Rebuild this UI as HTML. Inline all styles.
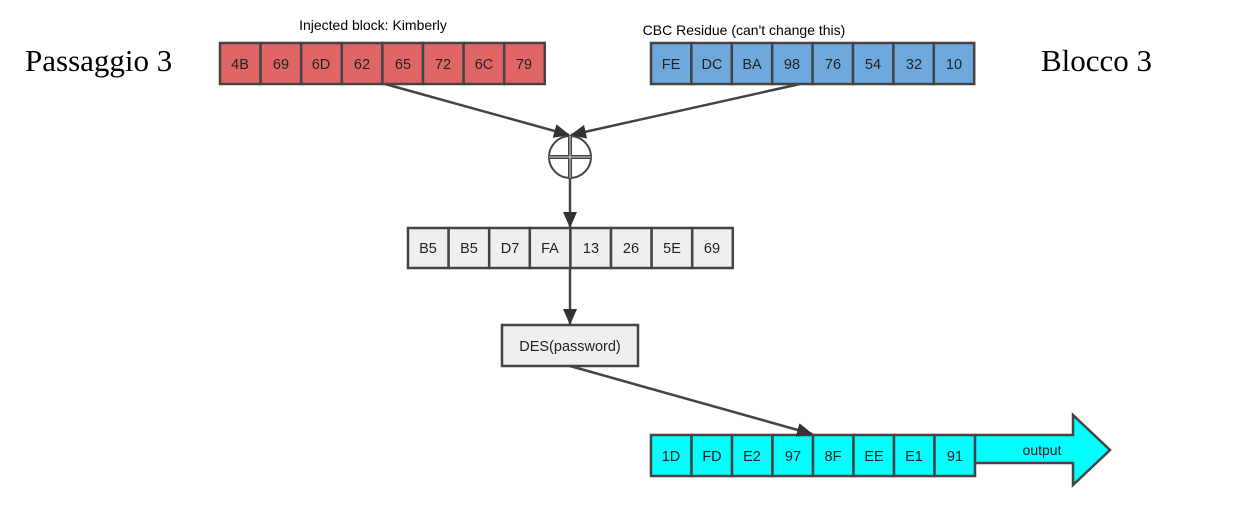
<!DOCTYPE html>
<html><head><meta charset="utf-8"><style>
body{margin:0;background:#fff;}
svg text{font-family:"Liberation Sans",sans-serif;}
</style></head><body>
<svg width="1258" height="526" viewBox="0 0 1258 526" xmlns="http://www.w3.org/2000/svg">
<defs>
<marker id="ah" markerWidth="16" markerHeight="14" refX="15" refY="7" orient="auto" markerUnits="userSpaceOnUse" viewBox="0 0 16 14">
<path d="M0,0 L16,7 L0,14 z" fill="#333"/>
</marker>
</defs>
<text x="25" y="71" style="font-family:'Liberation Serif',serif" font-size="31">Passaggio 3</text>
<text x="1041" y="71" style="font-family:'Liberation Serif',serif" font-size="31">Blocco 3</text>
<text x="373" y="30" font-size="14" text-anchor="middle">Injected block: Kimberly</text>
<text x="744" y="35" font-size="14" text-anchor="middle">CBC Residue (can't change this)</text>
<g stroke="#444" stroke-width="2.5" font-size="15" text-anchor="middle">
<g fill="#e06666">
<rect x="220" y="43" width="40.6" height="41"/><rect x="260.6" y="43" width="40.6" height="41"/><rect x="301.2" y="43" width="40.6" height="41"/><rect x="341.8" y="43" width="40.6" height="41"/><rect x="382.4" y="43" width="40.6" height="41"/><rect x="423" y="43" width="40.6" height="41"/><rect x="463.6" y="43" width="40.6" height="41"/><rect x="504.2" y="43" width="40.6" height="41"/>
</g>
<g fill="#6fa8dc">
<rect x="651" y="43" width="40.4" height="41"/><rect x="691.4" y="43" width="40.4" height="41"/><rect x="731.8" y="43" width="40.4" height="41"/><rect x="772.2" y="43" width="40.4" height="41"/><rect x="812.6" y="43" width="40.4" height="41"/><rect x="853" y="43" width="40.4" height="41"/><rect x="893.4" y="43" width="40.4" height="41"/><rect x="933.8" y="43" width="40.4" height="41"/>
</g>
<g fill="#efefef">
<rect x="408" y="228" width="40.6" height="40"/><rect x="448.6" y="228" width="40.6" height="40"/><rect x="489.2" y="228" width="40.6" height="40"/><rect x="529.8" y="228" width="40.6" height="40"/><rect x="570.4" y="228" width="40.6" height="40"/><rect x="611" y="228" width="40.6" height="40"/><rect x="651.6" y="228" width="40.6" height="40"/><rect x="692.2" y="228" width="40.6" height="40"/>
<rect x="502" y="325" width="136" height="41"/>
</g>
<path d="M975,435 L1073,435 L1073,415 L1110,450 L1073,485 L1073,463 L975,463" fill="#00ffff"/>
<g fill="#00ffff">
<rect x="651" y="435" width="40.5" height="41"/><rect x="691.5" y="435" width="40.5" height="41"/><rect x="732" y="435" width="40.5" height="41"/><rect x="772.5" y="435" width="40.5" height="41"/><rect x="813" y="435" width="40.5" height="41"/><rect x="853.5" y="435" width="40.5" height="41"/><rect x="894" y="435" width="40.5" height="41"/><rect x="934.5" y="435" width="40.5" height="41"/>
</g>
</g>
<g font-size="14.5" text-anchor="middle" fill="#222">
<text x="240" y="69">4B</text><text x="281" y="69">69</text><text x="321" y="69">6D</text><text x="362" y="69">62</text><text x="403" y="69">65</text><text x="443" y="69">72</text><text x="484" y="69">6C</text><text x="524" y="69">79</text>
<text x="671" y="69">FE</text><text x="712" y="69">DC</text><text x="752" y="69">BA</text><text x="792" y="69">98</text><text x="833" y="69">76</text><text x="873" y="69">54</text><text x="914" y="69">32</text><text x="954" y="69">10</text>
<text x="428" y="253">B5</text><text x="469" y="253">B5</text><text x="510" y="253">D7</text><text x="550" y="253">FA</text><text x="591" y="253">13</text><text x="631" y="253">26</text><text x="672" y="253">5E</text><text x="712" y="253">69</text>
<text x="570" y="351">DES(password)</text>
<text x="671" y="461">1D</text><text x="712" y="461">FD</text><text x="752" y="461">E2</text><text x="793" y="461">97</text><text x="833" y="461">8F</text><text x="874" y="461">EE</text><text x="914" y="461">E1</text><text x="955" y="461">91</text>
<text x="1042" y="455" font-size="14">output</text>
</g>
<g stroke="#444" stroke-width="2.5" fill="none">
<line x1="385" y1="84" x2="569" y2="135" marker-end="url(#ah)"/>
<line x1="800" y1="84" x2="571" y2="135" marker-end="url(#ah)"/>
<line x1="570" y1="178" x2="570" y2="227" marker-end="url(#ah)"/>
<line x1="570" y1="268" x2="570" y2="324" marker-end="url(#ah)"/>
<line x1="570" y1="366" x2="812" y2="434" marker-end="url(#ah)"/>
</g>
<circle cx="570" cy="157" r="21" fill="#fff" stroke="#444" stroke-width="2"/>
<line x1="570" y1="136" x2="570" y2="178" stroke="#444" stroke-width="4"/>
<line x1="549" y1="157" x2="591" y2="157" stroke="#444" stroke-width="4"/>
<line x1="570" y1="136" x2="570" y2="178" stroke="#ddd" stroke-width="1"/>
<line x1="549" y1="157" x2="591" y2="157" stroke="#ddd" stroke-width="1"/>
</svg>
</body></html>
